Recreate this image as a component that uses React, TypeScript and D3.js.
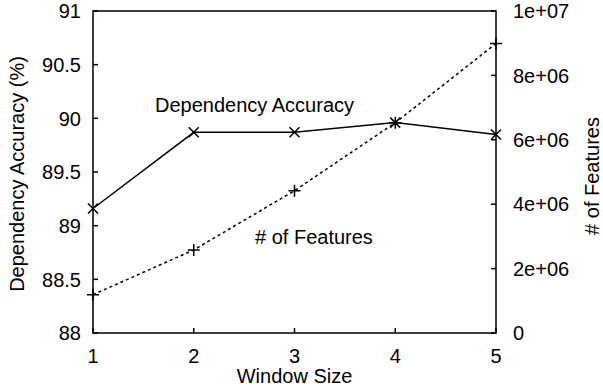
import React from "react";
import * as d3 from "d3";

const windowSizes = [1, 2, 3, 4, 5];
const accuracy = [89.16, 89.87, 89.87, 89.96, 89.85];
const features = [1190000, 2580000, 4420000, 6530000, 8990000];
const leftTicks = [88, 88.5, 89, 89.5, 90, 90.5, 91];
const rightTicks = [0, 2e6, 4e6, 6e6, 8e6, 1e7];
const rightTickLabels = ["0", "2e+06", "4e+06", "6e+06", "8e+06", "1e+07"];

const W = 603;
const H = 387;
const M = { left: 93, right: 496, top: 11, bottom: 333 };
const FONT = "'Liberation Sans', Arial, Helvetica, sans-serif";
const FS = 20;

export default function App() {
  const x = d3.scaleLinear().domain([1, 5]).range([M.left, M.right]);
  const yL = d3.scaleLinear().domain([88, 91]).range([M.bottom, M.top]);
  const yR = d3.scaleLinear().domain([0, 1e7]).range([M.bottom, M.top]);

  const line = d3.line<number>();
  const accPath = line(accuracy.map((v, i) => [x(windowSizes[i]), yL(v)] as [number, number]));
  const featPath = line(features.map((v, i) => [x(windowSizes[i]), yR(v)] as [number, number]));
  const ms = 5;
  const tl = 5;

  return (
    <svg width={W} height={H} style={{ position: "absolute", left: 0, top: 0 }} fontFamily={FONT} fontSize={FS}>
      <rect width={W} height={H} fill="#fff" />
      {leftTicks.map((t) => (
        <g key={"l" + t}>
          <line x1={M.left} x2={M.left + tl} y1={yL(t)} y2={yL(t)} stroke="#000" strokeWidth={1.5} />
          <text x={81} y={yL(t)} dy="0.36em" textAnchor="end">{String(t)}</text>
        </g>
      ))}
      {rightTicks.map((t, i) => (
        <g key={"r" + t}>
          <line x1={M.right} x2={M.right - tl} y1={yR(t)} y2={yR(t)} stroke="#000" strokeWidth={1.5} />
          <text x={513} y={yR(t)} dy="0.36em" textAnchor="start">{rightTickLabels[i]}</text>
        </g>
      ))}
      {windowSizes.map((t) => (
        <g key={"b" + t}>
          <line x1={x(t)} x2={x(t)} y1={M.bottom} y2={M.bottom - tl} stroke="#000" strokeWidth={1.5} />
          <text x={x(t)} y={363} textAnchor="middle">{String(t)}</text>
        </g>
      ))}
      <rect x={M.left} y={M.top} width={M.right - M.left} height={M.bottom - M.top} fill="none" stroke="#000" strokeWidth={1.5} />

      <path d={accPath || ""} fill="none" stroke="#000" strokeWidth={1.5} />
      <path d={featPath || ""} fill="none" stroke="#000" strokeWidth={1.5} strokeDasharray="3,3" />
      {accuracy.map((v, i) => {
        const cx = x(windowSizes[i]);
        const cy = yL(v);
        return (
          <path key={"a" + i} d={`M${cx - ms},${cy - ms}L${cx + ms},${cy + ms}M${cx - ms},${cy + ms}L${cx + ms},${cy - ms}`} stroke="#000" strokeWidth={1.5} />
        );
      })}
      {features.map((v, i) => {
        const cx = x(windowSizes[i]);
        const cy = yR(v);
        return (
          <path key={"f" + i} d={`M${cx - ms - 1},${cy}L${cx + ms + 1},${cy}M${cx},${cy - ms - 1}L${cx},${cy + ms + 1}`} stroke="#000" strokeWidth={1.5} />
        );
      })}

      <text x={155} y={112}>Dependency Accuracy</text>
      <text x={255} y={244}># of Features</text>

      <text x={(M.left + M.right) / 2} y={383} textAnchor="middle">Window Size</text>
      <text transform={`translate(24,174) rotate(-90)`} textAnchor="middle">Dependency Accuracy (%)</text>
      <text transform={`translate(599,176) rotate(-90)`} textAnchor="middle"># of Features</text>
    </svg>
  );
}
